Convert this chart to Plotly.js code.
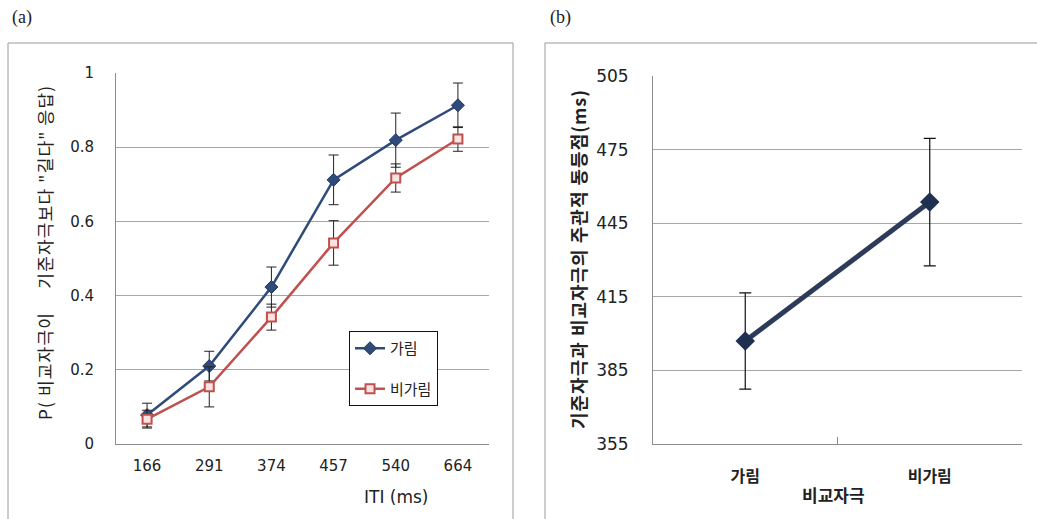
<!DOCTYPE html>
<html>
<head>
<meta charset="utf-8">
<script src="https://cdn.plot.ly/plotly-3.0.1.min.js"></script>
<style>
  html, body { margin: 0; padding: 0; background: #fff; }
  #chart { width: 1037px; height: 519px; }
</style>
</head>
<body>
<div id="chart"></div>
<script>
// ---- data (a) ----
const itiLabels = ['166', '291', '374', '457', '540', '664'];
const occluded = [0.078, 0.21, 0.423, 0.712, 0.819, 0.913];
const occludedErr = [0.032, 0.04, 0.054, 0.067, 0.073, 0.06];
const nonOccluded = [0.067, 0.154, 0.342, 0.542, 0.717, 0.822];
const nonOccludedErr = [0.024, 0.054, 0.035, 0.06, 0.038, 0.033];
const seriesNames = ['가림', '비가림'];
const yTicksA = [0, 0.2, 0.4, 0.6, 0.8, 1];
const yTickTextA = ['0', '0.2', '0.4', '0.6', '0.8', '1'];

// ---- data (b) ----
const compCats = ['가림', '비가림'];
const pse = [397, 453.6];
const pseErr = [19.6, 26];
const yTicksB = [355, 385, 415, 445, 475, 505];

const W = 1037, H = 519;
const px = v => v / W;
const py = v => 1 - v / H;

const FONT = '"Noto Sans CJK KR", "Noto Sans", sans-serif';
const NUMFONT = '"DejaVu Sans", sans-serif';
const BLUE = '#2f4b7c';
const RED = '#c0504d';
const GRID = '#a6a6a6';
const AXIS = '#8c8c8c';

const traces = [
  {
    x: itiLabels, y: occluded, name: seriesNames[0], legendgroup: 'g1',
    type: 'scatter', mode: 'lines+markers', xaxis: 'x', yaxis: 'y',
    line: { color: BLUE, width: 2.5 },
    marker: { symbol: 'diamond', size: 10, color: BLUE, line: { color: '#22385e', width: 1 } },
    error_y: { type: 'data', array: occludedErr, visible: true, color: '#222', thickness: 1, width: 5 }
  },
  {
    x: itiLabels, y: nonOccluded, name: seriesNames[1], legendgroup: 'g2',
    type: 'scatter', mode: 'lines+markers', xaxis: 'x', yaxis: 'y',
    line: { color: RED, width: 2.5 },
    marker: { symbol: 'square', size: 9, color: '#fbe3e2', line: { color: RED, width: 2 } },
    error_y: { type: 'data', array: nonOccludedErr, visible: true, color: '#222', thickness: 1, width: 5 }
  },
  {
    x: compCats, y: pse, name: 'PSE', showlegend: false,
    type: 'scatter', mode: 'lines+markers', xaxis: 'x2', yaxis: 'y2',
    line: { color: '#2c3c58', width: 5 },
    marker: { symbol: 'diamond', size: 15, color: '#1f3050' },
    error_y: { type: 'data', array: pseErr, visible: true, color: '#111', thickness: 1.2, width: 6 }
  }
];

function ann(text, x, y, font, extra) {
  return Object.assign({ text: text, xref: 'paper', yref: 'paper', x: px(x), y: py(y),
    xanchor: 'center', yanchor: 'middle', showarrow: false, font: font }, extra || {});
}

const layout = {
  width: W, height: H,
  margin: { l: 0, r: 0, t: 0, b: 0, pad: 0 },
  paper_bgcolor: '#fff', plot_bgcolor: '#fff',
  font: { family: FONT, color: '#222', size: 14 },
  showlegend: true,
  legend: {
    x: px(349), y: py(331), xanchor: 'left', yanchor: 'top',
    bordercolor: '#111', borderwidth: 1, bgcolor: '#fff',
    font: { family: FONT, size: 15, color: '#222' },
    tracegroupgap: 18
  },
  xaxis: {
    domain: [px(116), px(489)], anchor: 'y', type: 'category',
    range: [-0.5, 5.5], showgrid: false, zeroline: false,
    showline: true, linecolor: AXIS, linewidth: 1, ticks: '',
    tickfont: { family: NUMFONT, size: 15, color: '#222' }, ticklabelstandoff: 8,
    fixedrange: true
  },
  yaxis: {
    domain: [1 - 444 / H, 1 - 73 / H], anchor: 'x',
    range: [0, 1], tickvals: yTicksA, ticktext: yTickTextA,
    showgrid: true, gridcolor: GRID, gridwidth: 1, zeroline: false,
    showline: true, linecolor: AXIS, linewidth: 1, ticks: '',
    tickfont: { family: NUMFONT, size: 15, color: '#222' }, ticklabelstandoff: 18,
    fixedrange: true
  },
  xaxis2: {
    domain: [px(653), px(1022)], anchor: 'y2', type: 'category',
    range: [-0.5, 1.5], showgrid: false, zeroline: false,
    showline: true, linecolor: AXIS, linewidth: 1,
    ticks: 'inside', tickson: 'boundaries', ticklen: 7, tickcolor: AXIS,
    tickfont: { family: FONT, size: 16, color: '#222', weight: 'bold' }, ticklabelstandoff: 18,
    fixedrange: true
  },
  yaxis2: {
    domain: [1 - 444 / H, 1 - 76 / H], anchor: 'x2',
    range: [355, 505], tickvals: yTicksB,
    showgrid: true, gridcolor: GRID, gridwidth: 1, zeroline: false,
    showline: true, linecolor: AXIS, linewidth: 1, ticks: '',
    tickfont: { family: NUMFONT, size: 17, color: '#222' }, ticklabelstandoff: 20,
    fixedrange: true
  },
  shapes: [
    { type: 'rect', xref: 'paper', yref: 'paper', x0: px(8), x1: px(513), y0: py(530), y1: py(43),
      line: { color: '#9a9a9a', width: 1 }, fillcolor: 'rgba(0,0,0,0)', layer: 'below' },
    { type: 'rect', xref: 'paper', yref: 'paper', x0: px(545), x1: px(1050), y0: py(530), y1: py(43),
      line: { color: '#9a9a9a', width: 1 }, fillcolor: 'rgba(0,0,0,0)', layer: 'below' }
  ],
  annotations: [
    ann('(a)', 22, 18, { family: '"Liberation Serif", serif', size: 18, color: '#222' }),
    ann('(b)', 560, 18, { family: '"Liberation Serif", serif', size: 18, color: '#222' }),
    ann('<span style="letter-spacing:1.2px">P(\u00a0비교자극이\u3000\u00a0기준자극보다\u00a0"길다"\u00a0응답)</span>', 44, 253,
      { family: FONT, size: 17, color: '#222' }, { textangle: -90 }),
    ann('ITI (ms)', 396, 497, { family: NUMFONT, size: 17, color: '#222' }),
    ann('<span style="letter-spacing:1px">기준자극과 비교자극의 주관적 동등점(ms)</span>', 578, 259,
      { family: FONT, size: 18, color: '#222', weight: 'bold' }, { textangle: -90 }),
    ann('비교자극', 833, 494, { family: FONT, size: 17, color: '#222', weight: 'bold' })
  ]
};

Plotly.newPlot('chart', traces, layout, { displayModeBar: false, staticPlot: true });
</script>
</body>
</html>
